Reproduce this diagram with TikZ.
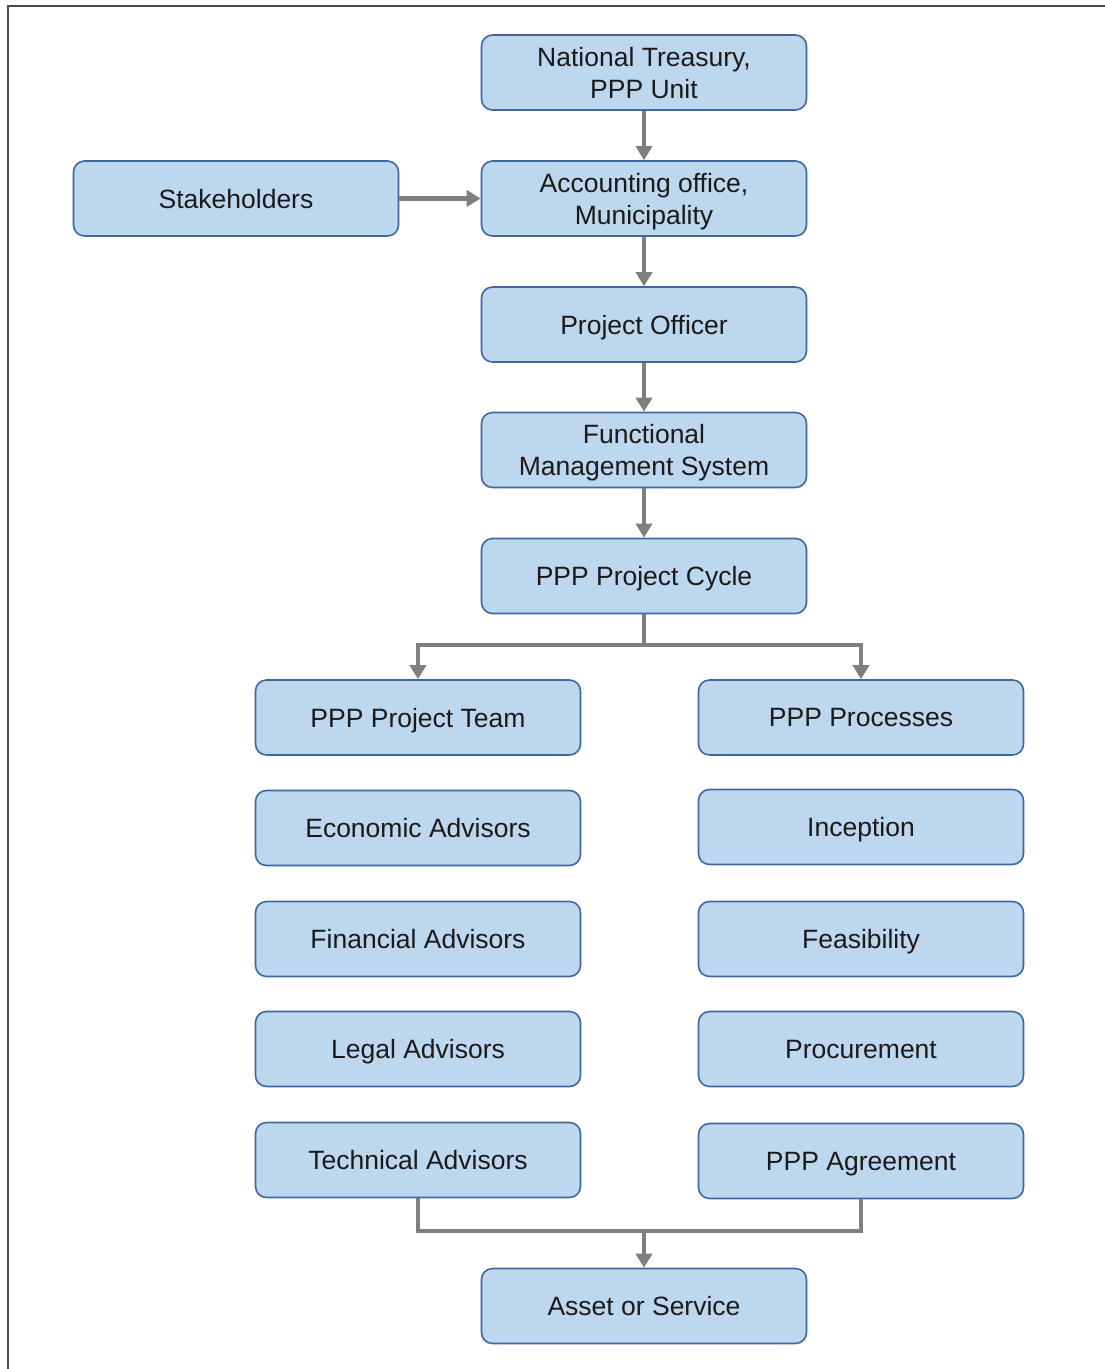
\documentclass[tikz,border=0pt]{standalone}
\usepackage{fontspec}
\setmainfont{Liberation Sans}
\usetikzlibrary{arrows.meta}
\definecolor{boxfill}{HTML}{BDD7EE}
\definecolor{boxline}{HTML}{41679F}
\definecolor{conn}{HTML}{7F7F7F}
\definecolor{txt}{HTML}{1A1A1A}
\begin{document}
\begin{tikzpicture}[x=1pt,y=-1pt,
  box/.style={draw=boxline, fill=boxfill, line width=1.6pt, rounded corners=11pt,
    minimum width=325pt, minimum height=75pt, align=center, text=txt,
    font=\fontsize{26.5}{32}\selectfont, inner sep=0pt, text depth=0pt},
  link/.style={draw=conn, line width=4.5pt},
  arr/.style={link, -{Triangle[width=16pt,length=14pt]}}]
\useasboundingbox (0,0) rectangle (1105,1369);
\draw[line width=2pt, color=black!70] (8,1369) -- (8,6) -- (1105,6);
\node[box] (nt) at (644,72.5) {National Treasury,\\PPP Unit};
\node[box] (sh) at (236,198.5) {Stakeholders};
\node[box] (ao) at (644,198.5) {Accounting office,\\Municipality};
\node[box] (po) at (644,324.5) {Project Officer};
\node[box] (fm) at (644,450) {Functional\\Management System};
\node[box] (cy) at (644,576) {PPP Project Cycle};
\node[box] (team) at (418,717.5) {PPP Project Team};
\node[box] (eco) at (418,828) {Economic Advisors};
\node[box] (fin) at (418,939) {Financial Advisors};
\node[box] (leg) at (418,1049) {Legal Advisors};
\node[box] (tech) at (418,1160) {Technical Advisors};
\node[box] (proc) at (861,717.5) {PPP Processes};
\node[box] (inc) at (861,827) {Inception};
\node[box] (fea) at (861,939) {Feasibility};
\node[box] (pro) at (861,1049) {Procurement};
\node[box] (agr) at (861,1161) {PPP Agreement};
\node[box] (as) at (644,1306) {Asset or Service};
\draw[arr] (nt) -- (ao);
\draw[arr] (sh) -- (ao);
\draw[arr] (ao) -- (po);
\draw[arr] (po) -- (fm);
\draw[arr] (fm) -- (cy);
\coordinate (b) at (644,645);
\draw[link] (cy.south) -- (b);
\draw[arr] (b) -| (team.north);
\draw[arr] (b) -| (proc.north);
\coordinate (j) at (644,1231);
\draw[link] (tech.south) |- (j) -| (agr.south);
\draw[arr] (j) -- (as);
\end{tikzpicture}
\end{document}
